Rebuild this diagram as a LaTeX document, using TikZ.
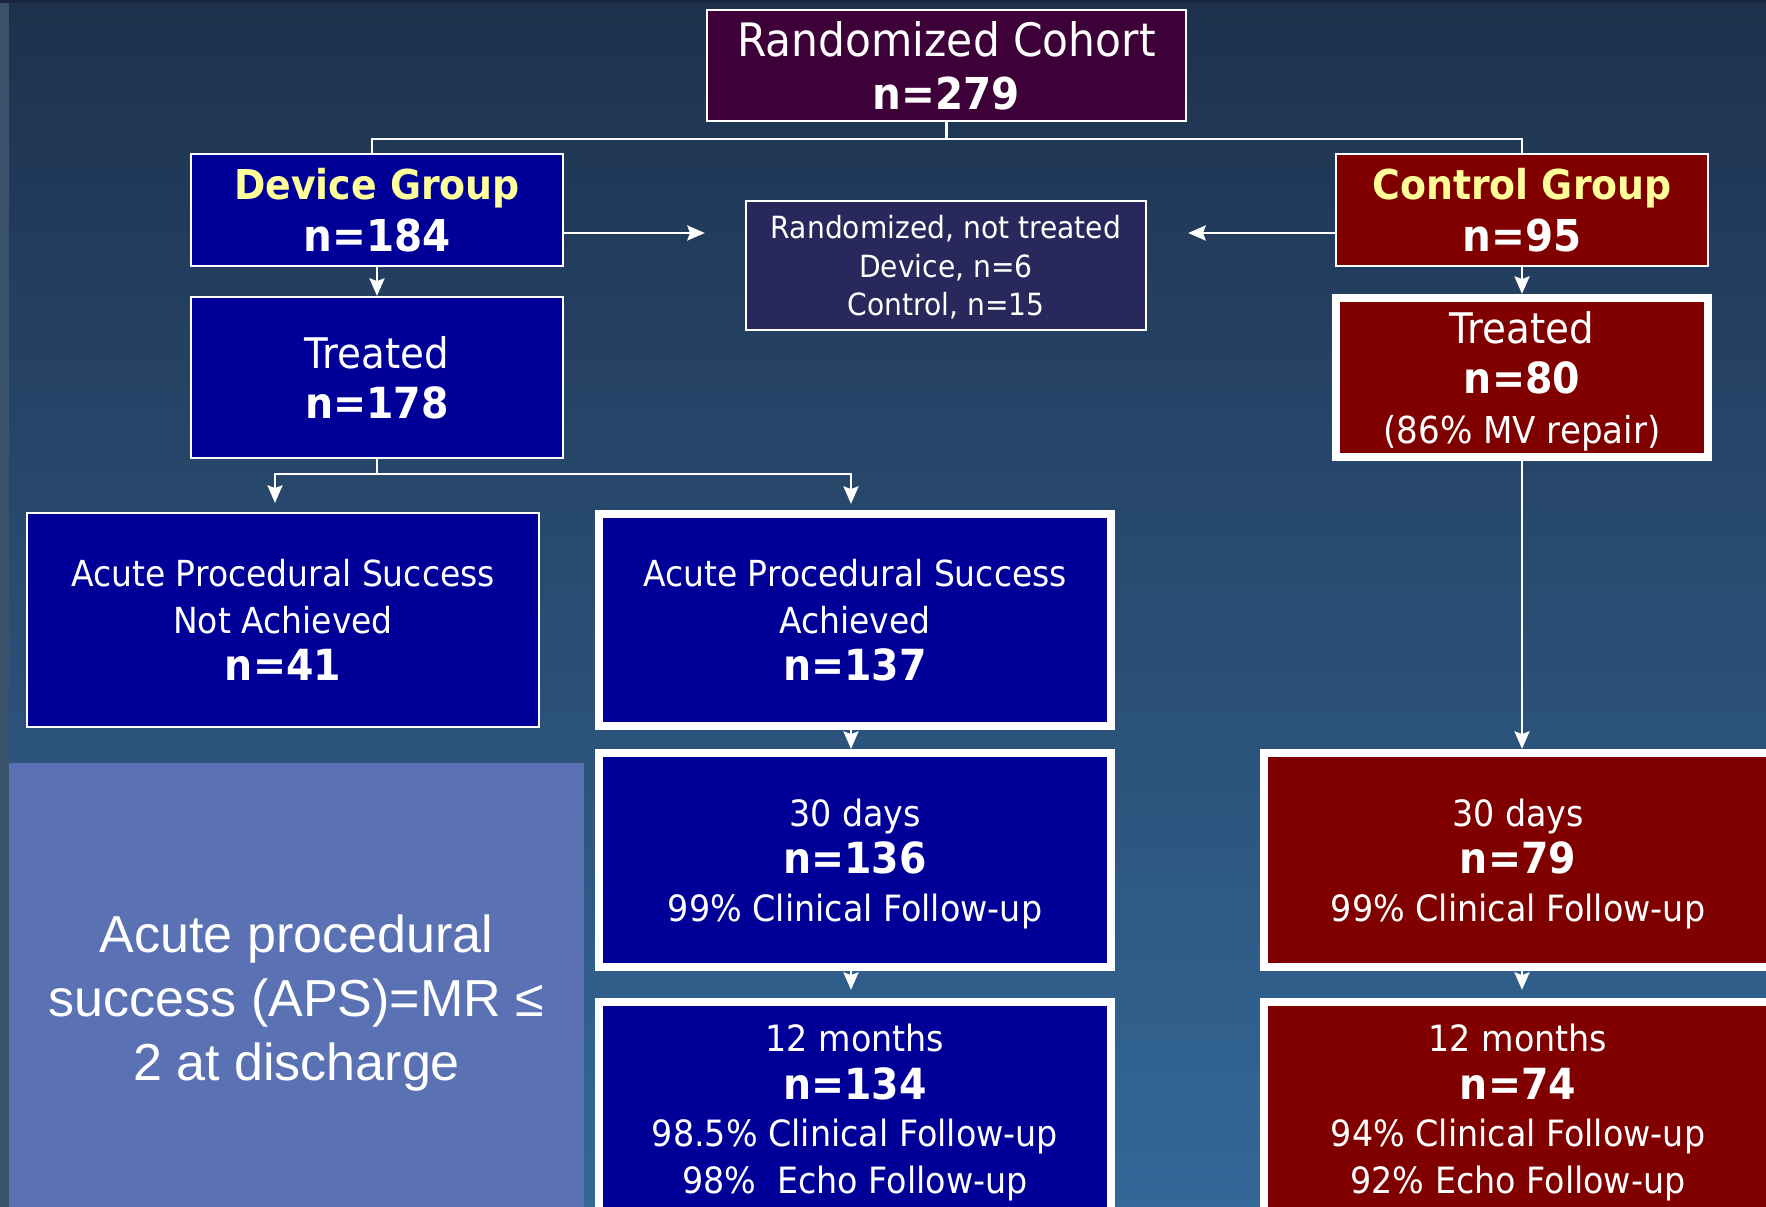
\documentclass[tikz,border=0pt]{standalone}
\usepackage{fontspec}
\setmainfont[FakeStretch=0.92]{DejaVu Sans}
\newfontfamily\notefont{Liberation Sans}
\usepackage{xcolor}
\usepackage{tikz}
\usetikzlibrary{arrows.meta, positioning, calc}
\definecolor{bgtop}{RGB}{30,49,77}
\definecolor{bgbot}{RGB}{52,104,152}
\definecolor{cohortfill}{RGB}{61,0,56}
\definecolor{boxblue}{RGB}{0,0,153}
\definecolor{boxred}{RGB}{128,0,0}
\definecolor{titleyellow}{RGB}{255,255,153}
\definecolor{ntfill}{RGB}{40,40,92}
\definecolor{notefill}{RGB}{90,114,180}
\definecolor{edgestrip}{RGB}{58,82,106}
\newcommand{\fsz}[2]{\fontsize{#1}{#2}\selectfont}
\newcommand{\nval}[1]{{\fsz{12.2pt}{13.5pt}\bfseries #1}}
\tikzset{
    box/.style={draw=white, line width=0.6pt, inner sep=0pt, align=center, text=white, text depth=0pt},
    blue_box/.style={box, fill=boxblue},
    red_box/.style={box, fill=boxred},
    heavy_frame/.style={line width=2.3pt},
    link/.style={draw=white, line width=0.6pt},
    arr/.style={link, -{Stealth[length=5pt, width=4.3pt, inset=0.8pt]}}
}

\begin{document}
\begin{tikzpicture}[x=0.01cm, y=-0.01cm]
    \useasboundingbox (0,0) rectangle (1766,1207);
    \clip (0,0) rectangle (1766,1207);
    % Background
    \fill[top color=bgtop, bottom color=bgbot] (0,0) rectangle (1766,1207);
    \fill[edgestrip] (0,0) rectangle (9,1207);
    \fill[bgtop!80!black] (0,0) rectangle (1766,3);
    % Top of the tree
    \node[box, fill=cohortfill, minimum width=4.79cm, minimum height=1.11cm, font=\fsz{13.1pt}{14.8pt}] (cohort) at (946.5,65.5) {Randomized Cohort\\{\fsz{12.5pt}{14.8pt}\bfseries n=279}};
    \node[blue_box, minimum width=3.72cm, minimum height=1.12cm, font=\fsz{11.7pt}{14.8pt}\bfseries] (dev) at (377,210) {\textcolor{titleyellow}{Device Group}\\{\fsz{12.5pt}{14.8pt}n=184}};
    \node[red_box, minimum width=3.72cm, minimum height=1.12cm, font=\fsz{11.7pt}{14.8pt}\bfseries] (ctl) at (1522,210) {\textcolor{titleyellow}{Control Group}\\{\fsz{12.5pt}{14.8pt}n=95}};
    \node[box, fill=ntfill, minimum width=4.0cm, minimum height=1.29cm, font=\fsz{8.7pt}{11pt}] (nt) at (946,265.5) {Randomized, not treated\\Device, n=6\\Control, n=15};
    % Treated
    \node[blue_box, minimum width=3.72cm, minimum height=1.61cm, font=\fsz{12pt}{14.4pt}] (trd) at (377,377.5) {Treated\\\nval{n=178}};
    \node[red_box, heavy_frame, minimum width=3.71cm, minimum height=1.59cm, font=\fsz{12pt}{14.2pt}] (ctlt) at (1522,377.5) {Treated\\\nval{n=80}\\{\fsz{10.55pt}{13pt}(86\% MV repair)}};
    % Acute procedural success
    \node[blue_box, minimum width=5.12cm, minimum height=2.14cm, font=\fsz{10.2pt}{13.4pt}] (apsno) at (283,620) {Acute Procedural Success\\Not Achieved\\\nval{n=41}};
    \node[blue_box, heavy_frame, minimum width=5.11cm, minimum height=2.12cm, font=\fsz{10.2pt}{13.4pt}] (apsach) at (855,620) {Acute Procedural Success\\Achieved\\\nval{n=137}};
    % Follow-up
    \node[blue_box, heavy_frame, minimum width=5.11cm, minimum height=2.14cm, font=\fsz{10.3pt}{13.5pt}] (d30) at (855,860) {30 days\\\nval{n=136}\\99\% Clinical Follow-up};
    \node[red_box, heavy_frame, minimum width=5.08cm, minimum height=2.14cm, font=\fsz{10.3pt}{13.5pt}] (c30) at (1518,860) {30 days\\\nval{n=79}\\99\% Clinical Follow-up};
    \node[blue_box, heavy_frame, minimum width=5.11cm, minimum height=2.14cm, font=\fsz{10.3pt}{13.5pt}] (m12) at (855,1109) {12 months\\\nval{n=134}\\98.5\% Clinical Follow-up\\98\%\ \ Echo Follow-up};
    \node[red_box, heavy_frame, minimum width=5.08cm, minimum height=2.14cm, font=\fsz{10.3pt}{13.5pt}] (cm12) at (1518,1109) {12 months\\\nval{n=74}\\94\% Clinical Follow-up\\92\% Echo Follow-up};
    % APS definition
    \node[fill=notefill, minimum width=5.75cm, minimum height=4.80cm, inner sep=0pt, align=center, text=white, font=\notefont\fsz{14.8pt}{18.2pt}] (note) at (296.5,1003) {Acute procedural\\success (APS)=MR ≤\\2 at discharge};
    % Randomization split
    \draw[link] (cohort.south) -- ++(0,16.5) coordinate (rsplit);
    \draw[link] (rsplit) -| ([xshift=-0.05cm]dev.north);
    \draw[link] (rsplit) -| (ctl.north);
    % Not treated
    \draw[arr, shorten >=0.4cm] ([yshift=-0.23cm]dev.east) -- ([yshift=-0.23cm]dev.east -| nt.west);
    \draw[arr, shorten >=0.41cm] ([yshift=-0.23cm]ctl.west) -- ([yshift=-0.23cm]ctl.west -| nt.east);
    % Treated
    \draw[arr] (dev) -- (trd);
    \draw[arr] (ctl) -- (ctlt);
    % APS split
    \draw[link] (trd.south) -- ++(0,15) coordinate (asplit);
    \draw[arr, shorten >=0.09cm] (asplit) -| ([xshift=-0.08cm]apsno.north);
    \draw[arr, shorten >=0.06cm] (asplit) -| ([xshift=-0.04cm]apsach.north);
    % Follow-up arrows
    \draw[arr] ([xshift=-0.04cm]apsach.south) -- ([xshift=-0.04cm]d30.north);
    \draw[arr, shorten >=0.08cm] ([xshift=-0.04cm]d30.south) -- ([xshift=-0.04cm]m12.north);
    \draw[arr] (ctlt.south) -- (ctlt.south |- c30.north);
    \draw[arr, shorten >=0.08cm] ([xshift=0.04cm]c30.south) -- ([xshift=0.04cm]cm12.north);
\end{tikzpicture}
\end{document}
